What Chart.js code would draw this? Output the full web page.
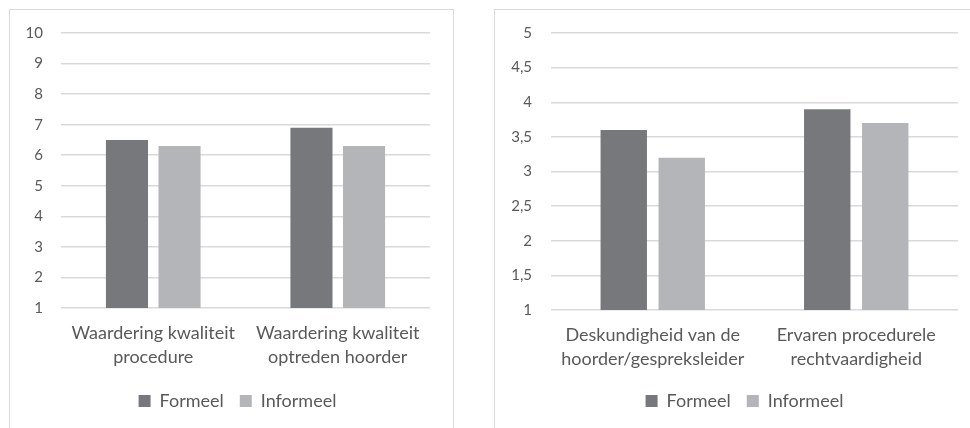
<!DOCTYPE html>
<html><head><meta charset="utf-8">
<script src="https://cdn.jsdelivr.net/npm/chart.js@4/dist/chart.umd.min.js"></script>
<style>
html,body{margin:0;padding:0;background:#fff;width:970px;height:428px;overflow:hidden;}
.panel{position:absolute;top:9px;border:1px solid #d9d9d9;border-bottom:none;background:#fff;}
#p1{left:9px;width:443px;height:430px;}
#p2{left:494px;width:500px;height:430px;}
canvas{position:absolute;left:0;top:0;}
</style></head><body>
<div class="panel" id="p1"><canvas id="c1" width="443" height="418"></canvas></div>
<div class="panel" id="p2"><canvas id="c2" width="493" height="418"></canvas></div>
<script>
// Series and categories
const seriesNames = ['Formeel', 'Informeel'];
const seriesColors = ['#77787b', '#b4b5b8'];

const leftCategories = [['Waardering kwaliteit', 'procedure'], ['Waardering kwaliteit', 'optreden hoorder']];
const leftFormeel = [6.5, 6.9];
const leftInformeel = [6.3, 6.3];
const leftAxis = { min: 1, max: 10, step: 1 };

const rightCategories = [['Deskundigheid van de', 'hoorder/gespreksleider'], ['Ervaren procedurele', 'rechtvaardigheid']];
const rightFormeel = [3.6, 3.9];
const rightInformeel = [3.2, 3.7];
const rightAxis = { min: 1, max: 5, step: 0.5 };

const FONT = 'Lato, "Open Sans", sans-serif';
const TEXT = '#595959';
const GRID = '#d9d9d9';

// nudges the legend sideways after layout
const legendShift = {
  id: 'legendShift',
  afterLayout(chart, args, opts) {
    if (chart.legend) {
      chart.legend.left += opts.dx;
      chart.legend.right += opts.dx;
    }
  }
};

function makeChart(canvasId, categories, formeel, informeel, axis, geom) {
  return new Chart(document.getElementById(canvasId), {
    type: 'bar',
    data: {
      labels: categories,
      datasets: [
        { label: seriesNames[0], data: formeel, backgroundColor: seriesColors[0], borderWidth: 0 },
        { label: seriesNames[1], data: informeel, backgroundColor: seriesColors[1], borderWidth: 0 }
      ]
    },
    plugins: [legendShift],
    options: {
      responsive: false,
      animation: false,
      categoryPercentage: 0.57,
      barPercentage: 0.8,
      layout: { padding: { top: geom.top, right: 0, bottom: geom.bottom, left: 0 } },
      plugins: {
        tooltip: { enabled: false },
        legendShift: { dx: geom.legendDx },
        legend: {
          position: 'bottom',
          labels: {
            color: TEXT,
            font: { family: FONT, size: 18 },
            boxWidth: 12, boxHeight: 12, padding: 16
          }
        }
      },
      scales: {
        x: {
          grid: { display: false },
          border: { display: false },
          ticks: {
            color: TEXT, font: { family: FONT, size: 18, lineHeight: 1.33 },
            maxRotation: 0, autoSkip: false, padding: 5
          },
          afterFit: s => { s.height = geom.xHeight; }
        },
        y: {
          min: axis.min, max: axis.max,
          grid: { color: GRID, lineWidth: 1.5, drawTicks: false },
          border: { display: false },
          ticks: {
            stepSize: axis.step, color: TEXT, font: { family: FONT, size: 15 },
            padding: geom.tickPad,
            callback: v => String(v).replace('.', ',')
          },
          afterFit: s => {
            s.width = geom.yWidth;
            // plot top is set by the layout padding alone
            s.paddingTop = 0;
            s.paddingBottom = 0;
          }
        },
        // empty right-hand margin of the plot, kept out of the legend's width
        margin: {
          type: 'linear', position: 'right', display: true,
          grid: { display: false }, border: { display: false },
          ticks: { display: false },
          afterFit: s => { s.width = geom.right; }
        }
      }
    }
  });
}

makeChart('c1', leftCategories, leftFormeel, leftInformeel, leftAxis,
  { top: 23, right: 23, bottom: 8, yWidth: 51, tickPad: 18, xHeight: 68, legendDx: 6 });
makeChart('c2', rightCategories, rightFormeel, rightInformeel, rightAxis,
  { top: 23, right: 30, bottom: 8, yWidth: 56, tickPad: 19, xHeight: 66, legendDx: 3 });
</script>
</body></html>
